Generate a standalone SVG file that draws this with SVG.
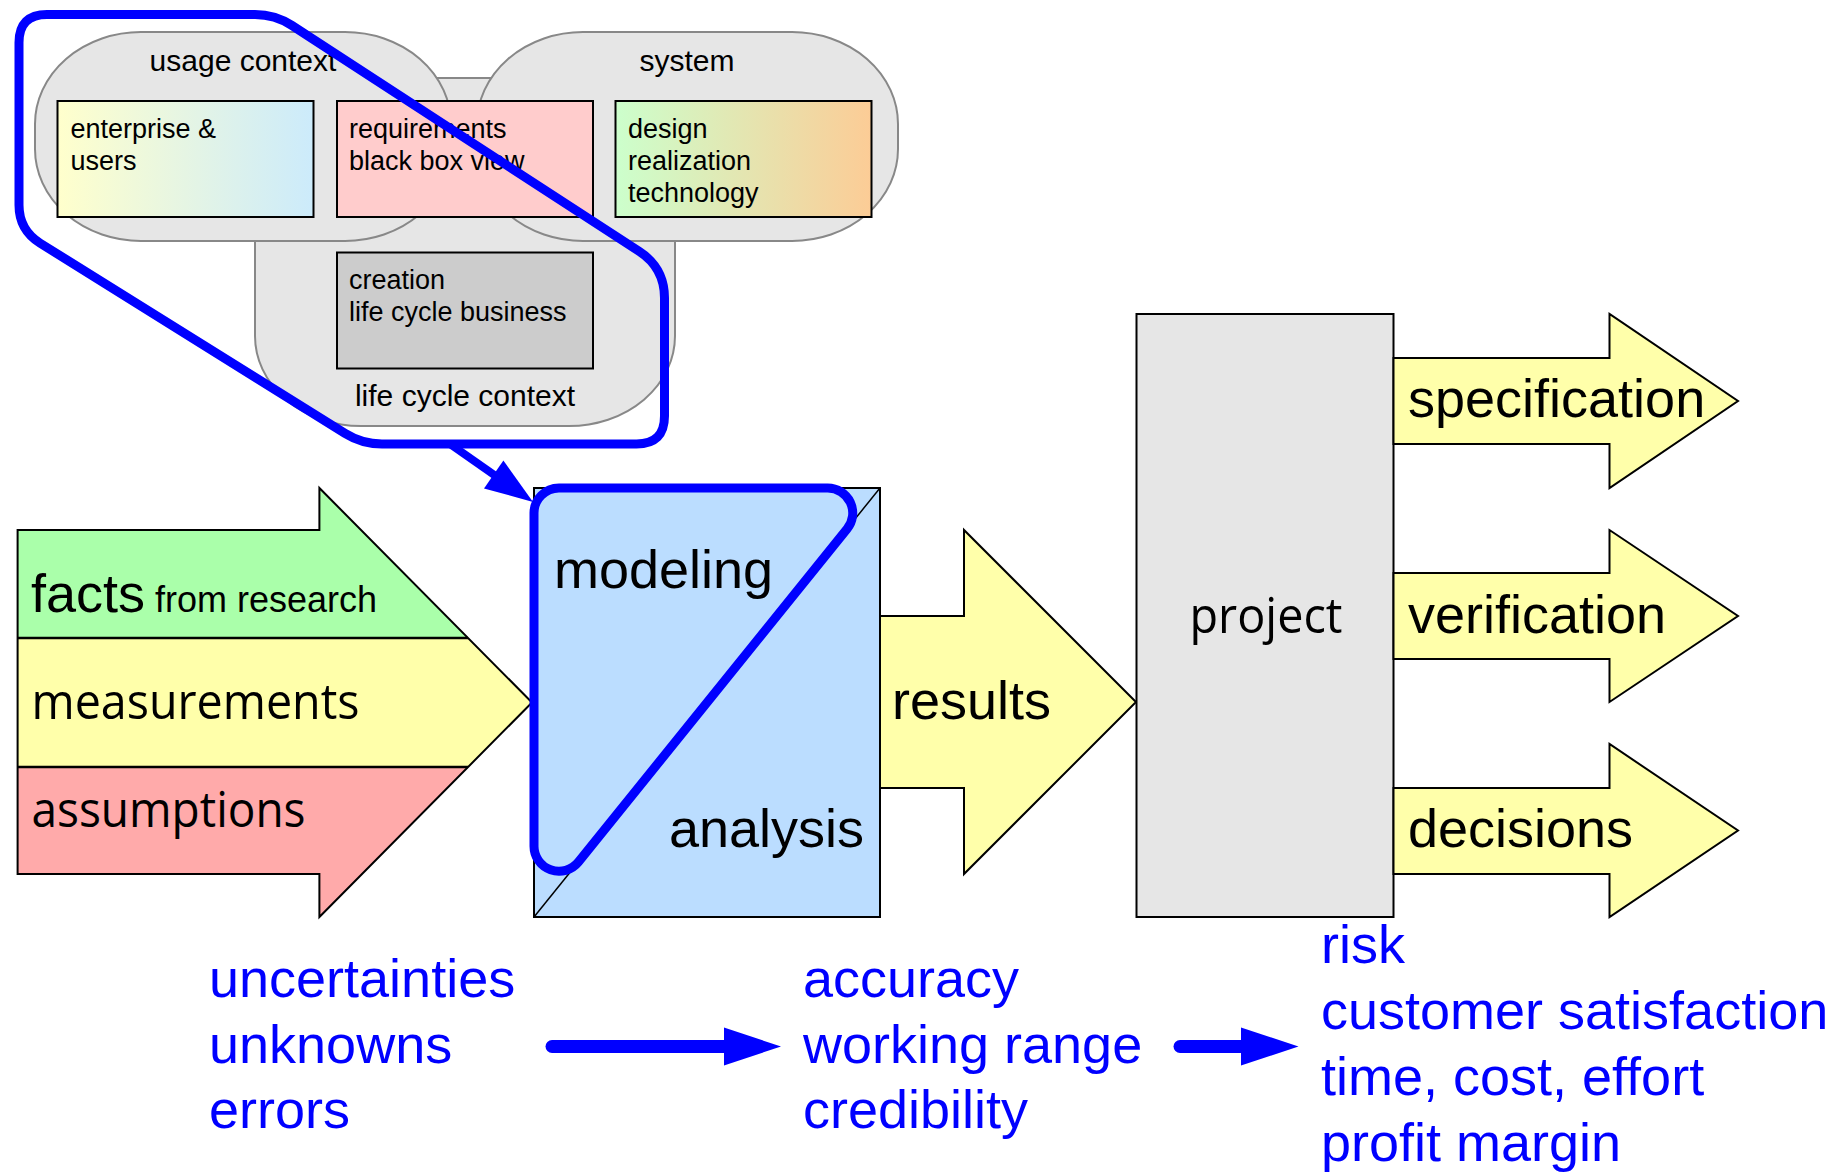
<svg xmlns="http://www.w3.org/2000/svg" width="1841" height="1172" viewBox="0 0 1841 1172">
  <style>
    .ctx { fill: #e6e6e6; stroke: #888888; stroke-width: 2; }
    .box { stroke: #000000; stroke-width: 2; }
    .s { font-family: "Liberation Sans", Arial, sans-serif; fill: #000000; }
    .h { font-family: "Open Sans", "Noto Sans", "DejaVu Sans", sans-serif; fill: #000000; }
    .lab { font-size: 30px; }
    .inn { font-size: 27px; }
    .big { font-size: 54px; }
    .blue { font-family: "Liberation Sans", Arial, sans-serif; font-size: 54px; fill: #0000ff; }
    .bline { fill: none; stroke: #0000ff; stroke-width: 9; stroke-linejoin: round; }
    .arr { stroke: #000000; stroke-width: 2; stroke-linejoin: miter; }
  </style>
  <defs>
    <linearGradient id="gEnt" x1="0" y1="0" x2="1" y2="0">
      <stop offset="0" stop-color="#ffffcc"/>
      <stop offset="1" stop-color="#ccebfb"/>
    </linearGradient>
    <linearGradient id="gDes" x1="0" y1="0" x2="1" y2="0">
      <stop offset="0" stop-color="#ccffcc"/>
      <stop offset="1" stop-color="#fccc96"/>
    </linearGradient>
  </defs>
  <rect width="1841" height="1172" fill="#ffffff"/>

  <!-- context diagram -->
  <g id="life-cycle-context">
    <rect class="ctx" x="255" y="78" width="420" height="348" rx="106" ry="90"/>
  </g>
  <g id="usage-context">
    <rect class="ctx" x="35" y="32" width="416" height="209" rx="106" ry="92"/>
    <text class="s lab" x="243" y="71" text-anchor="middle">usage context</text>
  </g>
  <g id="system">
    <rect class="ctx" x="477" y="32" width="421" height="209" rx="106" ry="92"/>
    <text class="s lab" x="687" y="71" text-anchor="middle">system</text>
  </g>
  <text class="s lab" x="465" y="406" text-anchor="middle">life cycle context</text>

  <g id="enterprise-users">
    <rect class="box" x="57.5" y="101" width="256" height="116" fill="url(#gEnt)"/>
    <text class="s inn" x="70.5" y="138">enterprise &amp;</text>
    <text class="s inn" x="70.5" y="170">users</text>
  </g>
  <g id="requirements">
    <rect class="box" x="337" y="101" width="256" height="116" fill="#ffcccc"/>
    <text class="s inn" x="349" y="138">requirements</text>
    <text class="s inn" x="349" y="170">black box view</text>
  </g>
  <g id="design">
    <rect class="box" x="615.5" y="101" width="256" height="116" fill="url(#gDes)"/>
    <text class="s inn" x="628" y="138">design</text>
    <text class="s inn" x="628" y="170">realization</text>
    <text class="s inn" x="628" y="202">technology</text>
  </g>
  <g id="creation">
    <rect class="box" x="337" y="252.5" width="256" height="116" fill="#cccccc"/>
    <text class="s inn" x="349" y="289">creation</text>
    <text class="s inn" x="349" y="321">life cycle business</text>
  </g>

  <!-- input arrow -->
  <g id="inputs">
    <polygon points="17.6,530 319.4,530 319.4,488 468,638 17.6,638" fill="#aaffaa"/>
    <polygon points="17.6,638 468,638 532,702.5 468,767 17.6,767" fill="#ffffaa"/>
    <polygon points="17.6,767 468,767 319.4,917 319.4,874 17.6,874" fill="#ffaaaa"/>
    <polygon class="arr" points="17.6,530 319.4,530 319.4,488 532,702.5 319.4,917 319.4,874 17.6,874" fill="none"/>
    <line x1="17.6" y1="638" x2="468" y2="638" stroke="#000" stroke-width="2.5"/>
    <line x1="17.6" y1="767" x2="468" y2="767" stroke="#000" stroke-width="2.5"/>
    <text class="s big" x="31" y="612">facts<tspan font-size="36" dx="10">from research</tspan></text>
    <text class="h" font-size="50" x="31.5" y="719" textLength="328" lengthAdjust="spacingAndGlyphs">measurements</text>
    <text class="h" font-size="50" x="31.5" y="827" textLength="274" lengthAdjust="spacingAndGlyphs">assumptions</text>
  </g>

  <!-- modeling / analysis -->
  <g id="modeling-analysis">
    <rect class="box" x="534" y="488" width="346" height="429" fill="#bbddff"/>
    <line x1="534" y1="917" x2="880" y2="488" stroke="#000" stroke-width="1.5"/>
    <text class="s big" x="554" y="588">modeling</text>
    <text class="s big" x="669" y="847">analysis</text>
  </g>

  <!-- results arrow -->
  <g id="results">
    <polygon class="arr" points="880,616 964,616 964,530 1136,702 964,874 964,788 880,788" fill="#ffffaa"/>
    <text class="s big" x="892" y="719">results</text>
  </g>

  <!-- project -->
  <g id="project">
    <rect class="box" x="1136.5" y="314" width="257" height="603" fill="#e6e6e6"/>
    <text class="h" font-size="50" x="1266" y="633" text-anchor="middle" textLength="153" lengthAdjust="spacingAndGlyphs">project</text>
  </g>

  <!-- output arrows -->
  <g id="specification">
    <polygon class="arr" points="1393.5,358 1609.5,358 1609.5,314 1738,401 1609.5,488 1609.5,444 1393.5,444" fill="#ffffaa"/>
    <text class="s big" x="1408" y="417">specification</text>
  </g>
  <g id="verification">
    <polygon class="arr" points="1393.5,573 1609.5,573 1609.5,530 1738,616 1609.5,702 1609.5,659 1393.5,659" fill="#ffffaa"/>
    <text class="s big" x="1408" y="633">verification</text>
  </g>
  <g id="decisions">
    <polygon class="arr" points="1393.5,788 1609.5,788 1609.5,744 1738,830.5 1609.5,917 1609.5,874 1393.5,874" fill="#ffffaa"/>
    <text class="s big" x="1408" y="847">decisions</text>
  </g>

  <!-- blue annotations -->
  <g id="uncertainties">
    <text class="blue" x="209" y="997">uncertainties</text>
    <text class="blue" x="209" y="1062.5">unknowns</text>
    <text class="blue" x="209" y="1128">errors</text>
  </g>
  <g id="accuracy">
    <text class="blue" x="803" y="997">accuracy</text>
    <text class="blue" x="803" y="1062.5">working range</text>
    <text class="blue" x="803" y="1128">credibility</text>
  </g>
  <g id="risk">
    <text class="blue" x="1321" y="963">risk</text>
    <text class="blue" x="1321" y="1029">customer satisfaction</text>
    <text class="blue" x="1321" y="1095">time, cost, effort</text>
    <text class="blue" x="1321" y="1161">profit margin</text>
  </g>

  <!-- blue overlays and connectors -->
  <g id="connectors">
    <path id="context-scope" class="bline" d="M 47,14.5 L 255,14.5 Q 275,14.5 291.8,25.4 L 639.4,251.6 Q 664.5,268 664.5,298 L 664.5,416 Q 664.5,444 636.5,444 L 382,444 Q 362,444 345,433.4 L 40.2,243.2 Q 19,230 19,205 L 19,42.5 Q 19,14.5 47,14.5 Z"/>
    <path id="model-scope" class="bline" d="M 534,846 L 534,513 A 25 25 0 0 1 559,488 L 827.6,488 A 25 25 0 0 1 847.1,528.8 L 578.5,861.9 A 25 25 0 0 1 534,846 Z"/>
    <line x1="450" y1="444" x2="495" y2="475.5" stroke="#0000ff" stroke-width="8"/>
    <polygon points="533,502 484,488.4 503.4,460.6" fill="#0000ff"/>
    <line x1="552" y1="1046.5" x2="726" y2="1046.5" stroke="#0000ff" stroke-width="13" stroke-linecap="round"/>
    <polygon points="724,1027.5 781,1046.5 724,1065.5" fill="#0000ff"/>
    <line x1="1180" y1="1046.5" x2="1243" y2="1046.5" stroke="#0000ff" stroke-width="13" stroke-linecap="round"/>
    <polygon points="1241,1027.5 1298.5,1046.5 1241,1065.5" fill="#0000ff"/>
  </g>
</svg>
